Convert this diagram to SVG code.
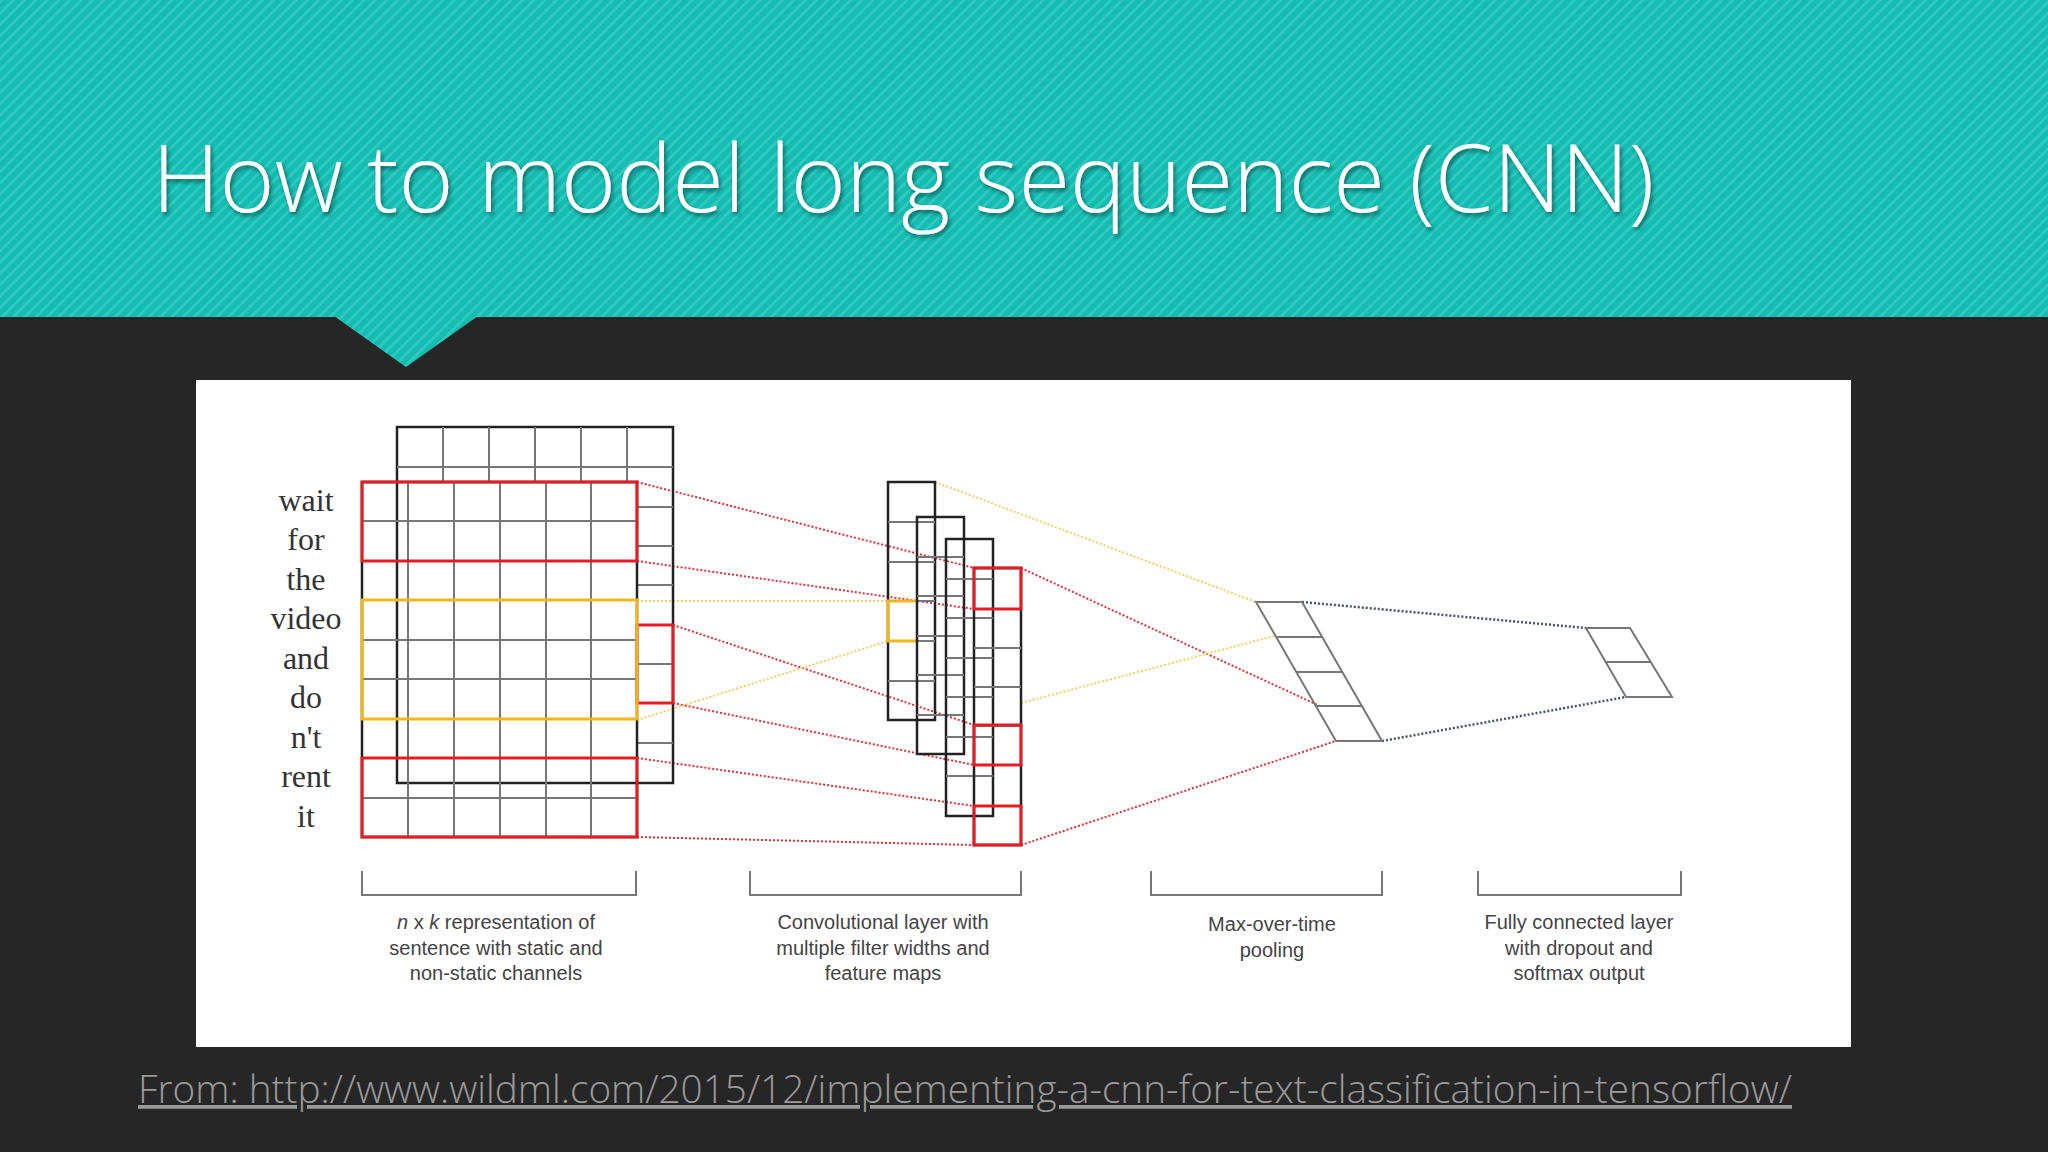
<svg xmlns="http://www.w3.org/2000/svg" width="2048" height="1152" viewBox="0 0 2048 1152">
<defs>
<pattern id="st" width="8" height="8" patternUnits="userSpaceOnUse" patternTransform="rotate(45)">
<rect width="8" height="8" fill="#14bcb2"/><rect width="3" height="8" fill="#2ec9bf"/>
</pattern>
<filter id="sh"><feDropShadow dx="2" dy="3" stdDeviation="2" flood-color="#000" flood-opacity="0.45"/></filter>
</defs>
<style>
.g{stroke:#777;stroke-width:2;fill:none}
.k{stroke:#222;stroke-width:2.5;fill:none}
.r{stroke:#e51c23;stroke-width:3;fill:none}
.y{stroke:#f2b61c;stroke-width:3;fill:none}
.dr{stroke:#e0303a;stroke-width:2;stroke-dasharray:2 2;fill:none}
.dy{stroke:#f0d060;stroke-width:2;stroke-dasharray:2 2;fill:none}
.db{stroke:#445566;stroke-width:2.5;stroke-dasharray:2 2;fill:none}
.w{font-family:"Liberation Serif",serif;font-size:32px;fill:#333;text-anchor:middle}
.c{font-family:"Liberation Sans",Arial,sans-serif;font-size:20px;fill:#444;text-anchor:middle}
</style>
<rect width="2048" height="1152" fill="#262626"/>
<rect width="2048" height="317" fill="url(#st)"/>
<polygon points="334,316 478,316 406,367" fill="url(#st)"/>
<text x="152" y="212" font-family="'Open Sans',sans-serif" font-weight="300" font-size="94" fill="#fff" filter="url(#sh)">How to model long sequence (CNN)</text>
<rect x="196" y="380" width="1655" height="667" fill="#fff"/>
<g id="connectors">
<line class="dr" x1="637" y1="482" x2="974" y2="568"/>
<line class="dr" x1="637" y1="561" x2="974" y2="609"/>
<line class="dr" x1="673" y1="625" x2="974" y2="725"/>
<line class="dr" x1="673" y1="703" x2="974" y2="765"/>
<line class="dr" x1="637" y1="758" x2="974" y2="806"/>
<line class="dr" x1="637" y1="837" x2="974" y2="845"/>
<line class="dr" x1="1021" y1="568" x2="1322" y2="707"/>
<line class="dr" x1="1021" y1="845" x2="1336" y2="741"/>
<line class="dy" x1="637" y1="601" x2="888" y2="601"/>
<line class="dy" x1="637" y1="720" x2="888" y2="641"/>
<line class="dy" x1="935" y1="482" x2="1256" y2="602"/>
<line class="dy" x1="1021" y1="703" x2="1274" y2="636"/>
<line class="db" x1="1302" y1="602" x2="1586" y2="628"/>
<line class="db" x1="1382" y1="741" x2="1626" y2="697"/>
</g>
<g id="matrix">
<rect x="397" y="427" width="276" height="356" fill="#fff" class="k"/>
<path class="g" d="M397,467H673M637,507H673M637,546H673M637,585H673M637,664H673M637,743H673M443,427V482M489,427V482M535,427V482M581,427V482M627,427V482"/>
<rect x="362" y="482" width="275" height="355" fill="#fff" class="k"/>
<path class="g" d="M362,521H637M362,561H637M362,600H637M362,640H637M362,679H637M362,719H637M362,758H637M362,798H637M408,482V837M454,482V837M500,482V837M546,482V837M591,482V837"/>
<rect class="r" x="637" y="625" width="36" height="78"/>
<rect class="r" x="362" y="482" width="275" height="79"/>
<rect class="y" x="362" y="600" width="275" height="119"/>
<rect class="r" x="362" y="758" width="275" height="79"/>
<text class="w" x="306" y="511">wait</text>
<text class="w" x="306" y="550">for</text>
<text class="w" x="306" y="590">the</text>
<text class="w" x="306" y="629">video</text>
<text class="w" x="306" y="669">and</text>
<text class="w" x="306" y="708">do</text>
<text class="w" x="306" y="748">n't</text>
<text class="w" x="306" y="787">rent</text>
<text class="w" x="306" y="827">it</text>
</g>
<g id="conv">
<rect x="888" y="482" width="47" height="238" fill="#fff" class="k"/>
<path class="g" d="M888,522H935M888,562H935M888,601H935M888,641H935M888,681H935"/>
<path class="y" d="M917,601H888V641H917"/>
<rect x="917" y="517" width="47" height="237" fill="#fff" class="k"/>
<path class="g" d="M917,557H964M917,596H964M917,636H964M917,675H964M917,715H964"/>
<rect x="946" y="539" width="47" height="277" fill="#fff" class="k"/>
<path class="g" d="M946,579H993M946,618H993M946,658H993M946,697H993M946,737H993M946,776H993"/>
<rect x="974" y="568" width="47" height="277" fill="#fff" class="k"/>
<path class="g" d="M974,648H1021M974,687H1021M974,726H1021"/>
<rect class="r" x="974" y="568" width="47" height="41"/>
<rect class="r" x="974" y="725" width="47" height="40"/>
<rect class="r" x="974" y="806" width="47" height="39"/>
</g>
<g id="pool">
<path class="g" d="M1256,602H1302L1382,741H1336Z M1276,637H1322M1296,672H1342M1316,706H1362"/>
</g>
<g id="fc">
<path class="g" d="M1586,628H1630L1672,697H1626Z M1606,662H1651"/>
</g>
<g id="brackets">
<path class="g" d="M362,871V895H636V871M750,871V895H1021V871M1151,871V895H1382V871M1478,871V895H1681V871"/>
</g>
<g id="captions">
<text class="c" x="496" y="929"><tspan font-style="italic">n</tspan> x <tspan font-style="italic">k</tspan> representation of</text>
<text class="c" x="496" y="955">sentence with static and</text>
<text class="c" x="496" y="980">non-static channels</text>
<text class="c" x="883" y="929">Convolutional layer with</text>
<text class="c" x="883" y="955">multiple filter widths and</text>
<text class="c" x="883" y="980">feature maps</text>
<text class="c" x="1272" y="931">Max-over-time</text>
<text class="c" x="1272" y="957">pooling</text>
<text class="c" x="1579" y="929">Fully connected layer</text>
<text class="c" x="1579" y="955">with dropout and</text>
<text class="c" x="1579" y="980">softmax output</text>
</g>
<text x="138" y="1103" font-family="'Open Sans',sans-serif" font-weight="300" font-size="38" fill="#9a9a9a" text-decoration="underline" textLength="1654" lengthAdjust="spacingAndGlyphs">From: http://www.wildml.com/2015/12/implementing-a-cnn-for-text-classification-in-tensorflow/</text>
</svg>
